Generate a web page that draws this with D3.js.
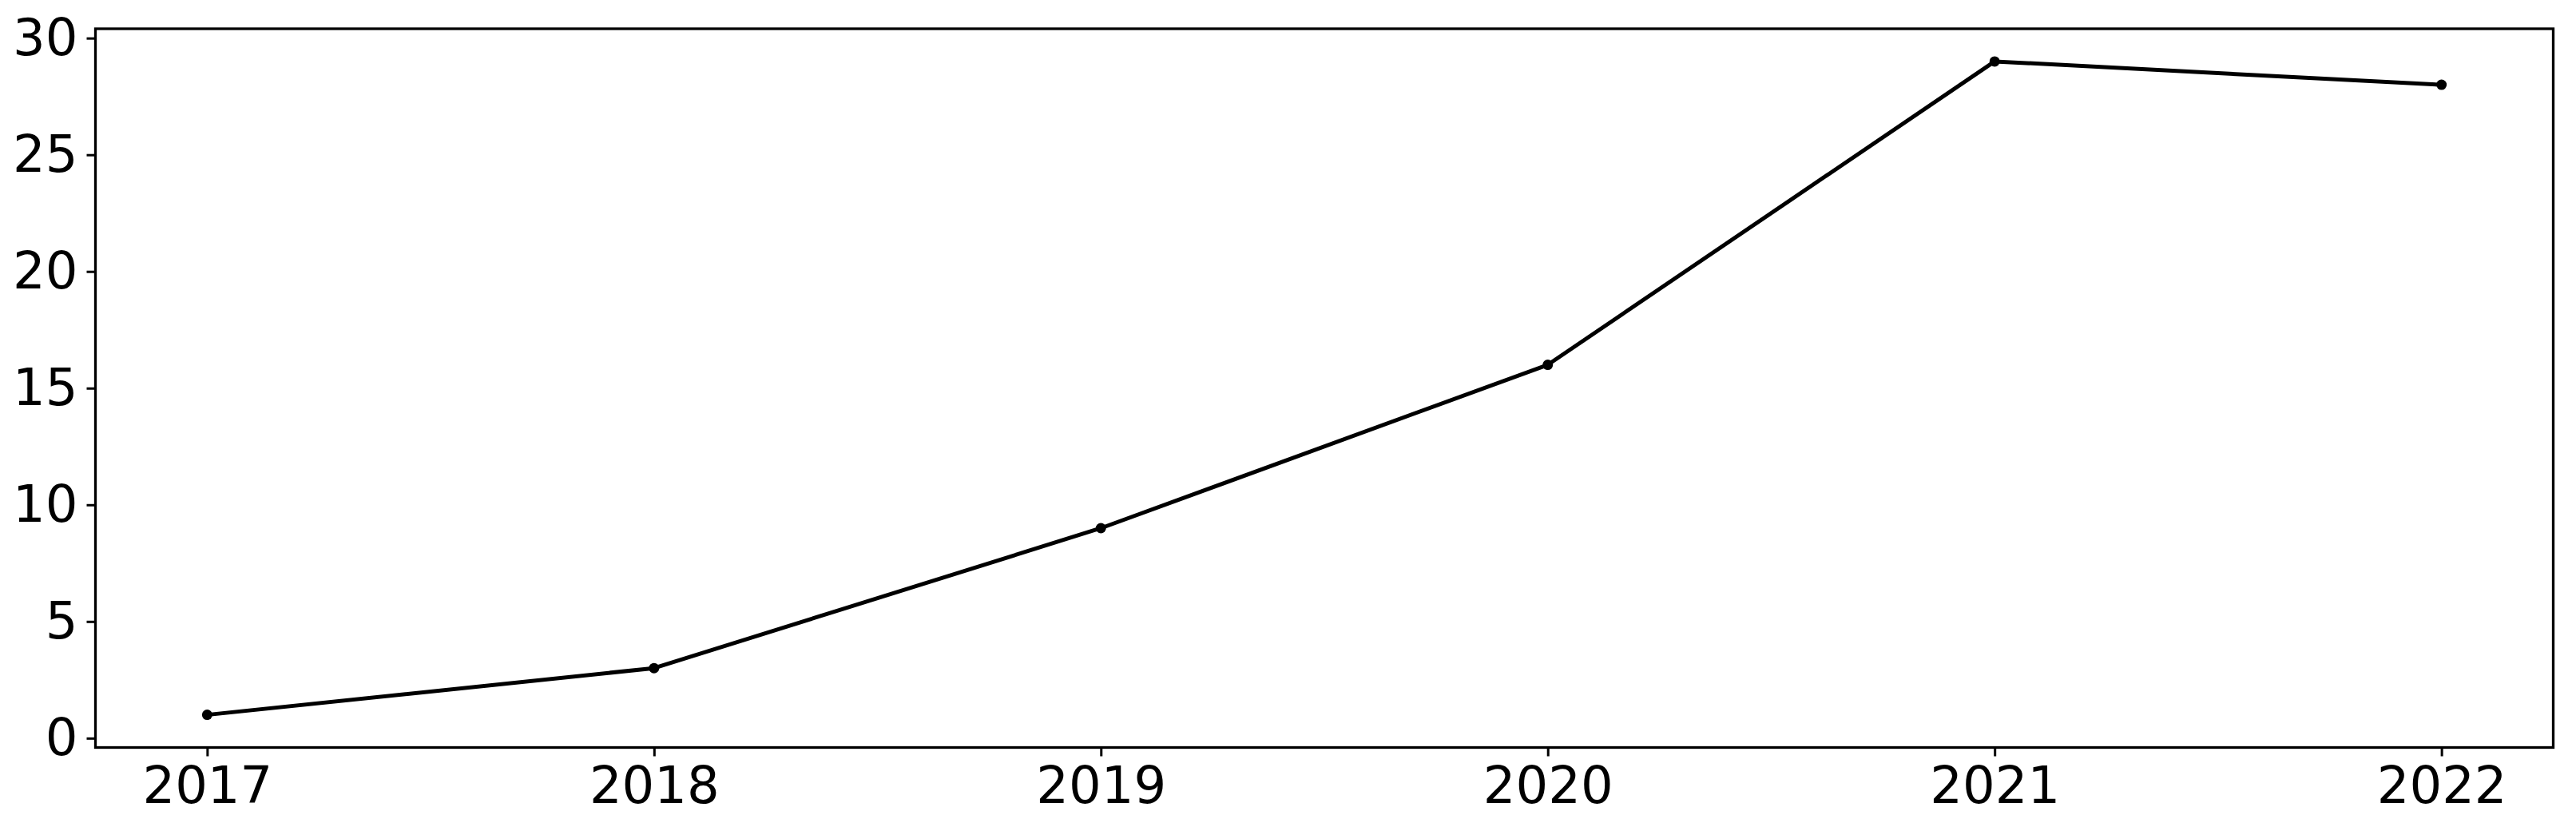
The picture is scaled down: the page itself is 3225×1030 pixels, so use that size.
<!DOCTYPE html>
<html lang="en">
<head>
<meta charset="UTF-8">
<title>Line chart</title>
<script src="https://d3js.org/d3.v7.min.js"></script>
<style>
  body { margin: 0; background: #fff; }
  text { font-family: "DejaVu Sans", sans-serif; }
</style>
</head>
<body>
<div class="canvas"></div>
<script>
  const years = [2017, 2018, 2019, 2020, 2021, 2022]
  const values = [1, 3, 9, 16, 29, 28]
  const yTicks = [0, 5, 10, 15, 20, 25, 30]

  const W = 3225, H = 1030
  const mLeft = 119.5, mRight = 3196.5, mTop = 36, mBottom = 935.5

  const svg = d3.select('.canvas')
    .append('svg')
    .attr('width', W)
    .attr('height', H)

  const x = d3.scaleLinear()
    .domain([2016.75, 2022.25])
    .range([mLeft, mRight])
  const y = d3.scaleLinear()
    .domain([-0.4, 30.4])
    .range([mBottom, mTop])

  // x axis
  const xAxis = svg.append('g')
    .attr('transform', `translate(0, ${mBottom})`)
    .call(d3.axisBottom(x).tickValues(years).tickFormat(d3.format('d')).tickSize(11).tickPadding(12))
  // y axis
  const yAxis = svg.append('g')
    .attr('transform', `translate(${mLeft}, 0)`)
    .call(d3.axisLeft(y).tickValues(yTicks).tickSize(11).tickPadding(11))

  ;[xAxis, yAxis].forEach(a => {
    a.select('.domain').remove()
    a.selectAll('.tick line').attr('stroke', '#000').attr('stroke-width', 3)
    a.selectAll('.tick text')
      .attr('fill', '#000')
      .style('font-size', '64px')
      .style('font-family', '"DejaVu Sans", sans-serif')
  })
  xAxis.selectAll('.tick text').attr('dy', '0.72em')

  // frame
  svg.append('rect')
    .attr('x', mLeft)
    .attr('y', mTop)
    .attr('width', mRight - mLeft)
    .attr('height', mBottom - mTop)
    .attr('fill', 'none')
    .attr('stroke', '#000')
    .attr('stroke-width', 3.3)

  const data = years.map((d, i) => ({ year: d, value: values[i] }))

  const line = d3.line()
    .x(d => x(d.year))
    .y(d => y(d.value))

  svg.append('path')
    .datum(data)
    .attr('fill', 'none')
    .attr('stroke', '#000')
    .attr('stroke-width', 5)
    .attr('stroke-linejoin', 'round')
    .attr('d', line)

  svg.selectAll('circle')
    .data(data)
    .enter()
    .append('circle')
    .attr('cx', d => x(d.year))
    .attr('cy', d => y(d.value))
    .attr('r', 6.5)
    .attr('fill', '#000')
</script>
</body>
</html>
